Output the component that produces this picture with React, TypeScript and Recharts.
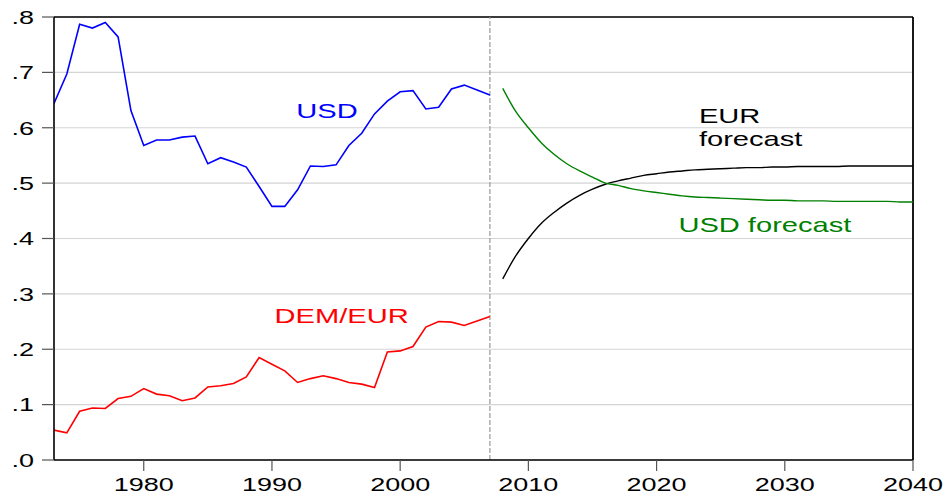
import {
  CartesianGrid,
  Line,
  LineChart,
  ReferenceDot,
  ReferenceLine,
  XAxis,
  YAxis,
} from "recharts";

const HIST_START = 1973;
const FORECAST_START = 2008;

// historical shares
const usd = [
  0.644, 0.697, 0.787, 0.78, 0.79, 0.764, 0.631, 0.568, 0.578, 0.578, 0.583, 0.585, 0.535, 0.546,
  0.538, 0.529, 0.494, 0.458, 0.458, 0.488, 0.531, 0.53, 0.533, 0.568, 0.59, 0.625, 0.648, 0.665,
  0.667, 0.634, 0.637, 0.67, 0.677, 0.668, 0.659,
];
const demEur = [
  0.054, 0.049, 0.088, 0.094, 0.093, 0.111, 0.115, 0.129, 0.119, 0.116, 0.107, 0.112, 0.132, 0.134,
  0.138, 0.15, 0.185, 0.173, 0.161, 0.14, 0.147, 0.152, 0.147, 0.14, 0.137, 0.131, 0.195, 0.197,
  0.205, 0.24, 0.25, 0.249, 0.243, 0.251, 0.259,
];

// forecasts 2008-2040
const eurForecast = [
  0.327, 0.368, 0.4, 0.427, 0.447, 0.464, 0.478, 0.489, 0.498, 0.504, 0.509, 0.514, 0.517, 0.52,
  0.522, 0.524, 0.525, 0.526, 0.527, 0.528, 0.528, 0.529, 0.529, 0.53, 0.53, 0.53, 0.53, 0.531,
  0.531, 0.531, 0.531, 0.531, 0.531,
];
const usdForecast = [
  0.671, 0.63, 0.6, 0.573, 0.552, 0.535, 0.522, 0.511, 0.5, 0.496, 0.49, 0.486, 0.483, 0.48, 0.477,
  0.475, 0.474, 0.473, 0.472, 0.471, 0.47, 0.469, 0.469, 0.468, 0.468, 0.468, 0.467, 0.467, 0.467,
  0.467, 0.467, 0.466, 0.466,
];

const xTicks = [1980, 1990, 2000, 2010, 2020, 2030, 2040];
const yTicks = [0, 0.1, 0.2, 0.3, 0.4, 0.5, 0.6, 0.7, 0.8];

const labels = [
  { lines: ["USD"], year: 1991.9, value: 0.617, color: "#0000ff" },
  { lines: ["DEM/EUR"], year: 1990.2, value: 0.248, color: "#ff0000" },
  { lines: ["EUR", "forecast"], year: 2023.3, value: 0.609, color: "#000000" },
  { lines: ["USD forecast"], year: 2021.7, value: 0.412, color: "#008000" },
];

type Row = { year: number; usd?: number; dem?: number; eurF?: number; usdF?: number };

const data: Row[] = [];
usd.forEach((v, i) => data.push({ year: HIST_START + i, usd: v, dem: demEur[i] }));
eurForecast.forEach((v, i) =>
  data.push({ year: FORECAST_START + i, eurF: v, usdF: usdForecast[i] })
);

const FONT = "'Liberation Sans', Arial, sans-serif";
const STRETCH = 1.42;

function XTick(props: any) {
  const { x, y, payload } = props;
  return (
    <text
      transform={`translate(${x},${y + 17.5}) scale(${STRETCH},1)`}
      textAnchor="middle"
      fontFamily={FONT}
      fontSize={19}
      fill="#000"
    >
      {payload.value}
    </text>
  );
}

function YTick(props: any) {
  const { x, y, payload } = props;
  const txt = payload.value.toFixed(1).replace(/^0/, "");
  return (
    <text
      transform={`translate(${x},${y + 6.8}) scale(${STRETCH},1)`}
      textAnchor="end"
      fontFamily={FONT}
      fontSize={19}
      fill="#000"
    >
      {txt}
    </text>
  );
}

function makeLabel(lines: string[], color: string) {
  return (props: any) => {
    const vb = props.viewBox || {};
    const x = vb.x + (vb.width || 0) / 2;
    const y = vb.y + (vb.height || 0) / 2;
    return (
      <g transform={`translate(${x},${y}) scale(${STRETCH},1)`}>
        {lines.map((t, i) => (
          <text key={t} x={0} y={i * 23.3} fontFamily={FONT} fontSize={20.5} fill={color}>
            {t}
          </text>
        ))}
      </g>
    );
  };
}

export default function App() {
  return (
    <div style={{ position: "absolute", left: 0, top: 0, width: 946, height: 496, background: "#fff" }}>
      <LineChart
        width={946}
        height={496}
        data={data}
        margin={{ top: 17, right: 33, bottom: 0, left: 0 }}
      >
        <CartesianGrid vertical={false} stroke="#d4d4d4" strokeWidth={1.2} />
        <XAxis
          dataKey="year"
          type="number"
          domain={[1973, 2040]}
          ticks={xTicks}
          height={36}
          tickSize={11}
          tickLine={{ stroke: "#555", strokeWidth: 1.2 }}
          axisLine={{ stroke: "#000", strokeWidth: 1.6 }}
          tick={(p: any) => <XTick {...p} />}
          interval={0}
          allowDataOverflow
        />
        <YAxis
          domain={[0, 0.8]}
          ticks={yTicks}
          width={54}
          tickSize={12}
          tickMargin={8}
          tickLine={{ stroke: "#555", strokeWidth: 1.2 }}
          axisLine={{ stroke: "#000", strokeWidth: 1.6 }}
          tick={(p: any) => <YTick {...p} />}
          interval={0}
          allowDataOverflow
        />
        <ReferenceLine y={0.8} stroke="#000" strokeWidth={1.6} />
        <ReferenceLine x={2040} stroke="#000" strokeWidth={1.8} />
        <ReferenceLine x={2007} stroke="#999" strokeDasharray="5 2" strokeWidth={1.2} />
        <Line
          dataKey="usd"
          stroke="#0000ff"
          strokeWidth={1.6}
          dot={false}
          type="linear"
          isAnimationActive={false}
        />
        <Line
          dataKey="dem"
          stroke="#ff0000"
          strokeWidth={1.6}
          dot={false}
          type="linear"
          isAnimationActive={false}
        />
        <Line
          dataKey="eurF"
          stroke="#000000"
          strokeWidth={1.4}
          dot={false}
          type="monotone"
          isAnimationActive={false}
        />
        <Line
          dataKey="usdF"
          stroke="#008000"
          strokeWidth={1.4}
          dot={false}
          type="monotone"
          isAnimationActive={false}
        />
        {labels.map((l) => (
          <ReferenceDot
            key={l.lines.join(" ")}
            x={l.year}
            y={l.value}
            r={1}
            fill="none"
            stroke="none"
            label={{ content: makeLabel(l.lines, l.color) }}
          />
        ))}
      </LineChart>
    </div>
  );
}
